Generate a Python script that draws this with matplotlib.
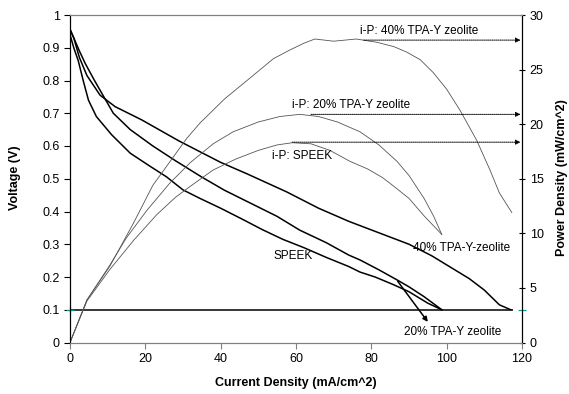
import matplotlib.pyplot as plt

plt.rcParams['font.family'] = ['Liberation Sans', 'DejaVu Sans']

# polarization curves (voltage vs current density)
i_40 = [0, 1, 2.5, 4.5, 8, 12, 19, 29, 40, 47, 57.5, 66, 74, 82, 90, 96, 101, 106, 110, 114, 117]
v_40 = [0.957, 0.93, 0.87, 0.815, 0.755, 0.72, 0.68, 0.615, 0.55, 0.515, 0.46, 0.41, 0.37, 0.335,
        0.3, 0.265, 0.23, 0.195, 0.16, 0.115, 0.1]

i_20 = [0, 1, 2.5, 4, 6.5, 9, 11.5, 16, 22, 28, 35, 41, 48, 55, 61, 68, 74, 77, 82, 87, 90, 94, 98.7]
v_20 = [0.955, 0.93, 0.89, 0.853, 0.8, 0.75, 0.7, 0.65, 0.6, 0.555, 0.505, 0.465, 0.425, 0.385,
        0.343, 0.305, 0.267, 0.252, 0.222, 0.19, 0.17, 0.14, 0.1]

i_sp = [0, 1, 2.2, 3.5, 4.9, 7, 11, 16, 21, 25.6, 30, 34.5, 40, 46, 51, 56.5, 62, 68, 74, 77, 81,
        86, 90, 95, 98.7]
v_sp = [0.94, 0.9, 0.86, 0.8, 0.74, 0.69, 0.635, 0.578, 0.54, 0.506, 0.466, 0.44, 0.41, 0.375,
        0.345, 0.315, 0.29, 0.26, 0.232, 0.215, 0.2, 0.176, 0.155, 0.12, 0.1]

# power density curves
pi_40 = [0, 4.5, 10.6, 16.8, 22, 31, 34.5, 41, 47, 54, 58.4, 62, 65, 70, 76, 81.5, 86, 89.4, 93,
         96.5, 100, 103.5, 108, 111.5, 114, 117.3]
p_40 = [0, 3.9, 7.0, 10.9, 14.4, 18.7, 20.1, 22.3, 24.0, 26.0, 26.8, 27.4, 27.8, 27.6, 27.8, 27.5,
        27.1, 26.6, 25.9, 24.7, 23.2, 21.3, 18.5, 15.8, 13.7, 11.9]

pi_20 = [0, 4.5, 10.6, 15, 20.4, 26.5, 32, 38, 43.3, 50, 55.7, 61, 66, 71, 77, 82, 86.8, 90, 94,
         96.5, 98.7]
p_20 = [0, 3.9, 7.1, 9.6, 12.1, 14.6, 16.5, 18.2, 19.3, 20.2, 20.7, 20.9, 20.7, 20.2, 19.3, 18.1,
        16.6, 15.3, 13.2, 11.6, 9.9]

pi_sp = [0, 4.5, 10.6, 17, 23, 28, 32.7, 38, 44, 50, 55, 59, 64, 69, 74.3, 79, 83, 86, 90, 94, 98.7]
p_sp = [0, 3.8, 6.7, 9.4, 11.7, 13.3, 14.5, 15.8, 16.8, 17.6, 18.1, 18.3, 18.2, 17.6, 16.6, 15.9,
        15.1, 14.3, 13.2, 11.6, 9.9]

# peak power markers (start current, peak power)
peak_labels = ['i-P: 40% TPA-Y zeolite', 'i-P: 20% TPA-Y zeolite', 'i-P: SPEEK']
peak_start = [78, 64, 59]
peak_power = [27.7, 20.9, 18.35]

fig = plt.figure(figsize=(5.69, 3.94), dpi=100)
fig.subplots_adjust(left=70/569, right=522/569, bottom=1-342.5/394, top=1-15/394)
ax = fig.add_subplot(111)
ax2 = ax.twinx()

ax.plot(i_40, v_40, color='black', lw=1.1)
ax.plot(i_20, v_20, color='black', lw=1.1)
ax.plot(i_sp, v_sp, color='black', lw=1.1)
ax.hlines(0.1, 0, 117.5, color='black', lw=1.1)
ax.plot([0], [0.1], marker='+', color='#00a0a0', ms=6, mew=0.9, clip_on=False)
ax.plot([120], [0.1], marker='_', color='#00a0a0', ms=6, mew=0.9, clip_on=False)

ax2.plot(pi_40, p_40, color='#555555', lw=0.6)
ax2.plot(pi_20, p_20, color='#555555', lw=0.6)
ax2.plot(pi_sp, p_sp, color='#555555', lw=0.6)

for s, p in zip(peak_start, peak_power):
    ax2.annotate('', xy=(119.6, p), xytext=(s, p),
                 arrowprops=dict(arrowstyle='-|>', color='black', lw=0.7, ls=(0, (1, 1)),
                                 mutation_scale=7, shrinkA=0, shrinkB=0))

fs = 8.5
ax2.text(77, 28.0, peak_labels[0], fontsize=fs, va='bottom', ha='left')
ax2.text(59, 21.2, peak_labels[1], fontsize=fs, va='bottom', ha='left')
ax2.text(53.5, 17.1, peak_labels[2], fontsize=fs, va='center', ha='left')

ax.text(54, 0.264, 'SPEEK', fontsize=fs, va='center', ha='left')
ax.text(91, 0.29, '40% TPA-Y-zeolite', fontsize=fs, va='center', ha='left')
ax.annotate('20% TPA-Y zeolite', xy=(95, 0.063), xytext=(88.7, 0.032), fontsize=fs,
            va='center', ha='left')
ax.annotate('', xy=(95, 0.063), xytext=(87, 0.187),
            arrowprops=dict(arrowstyle='-|>', color='black', lw=1.1, mutation_scale=7,
                            shrinkA=0, shrinkB=0))

ax.set_xlim(0, 120)
ax.set_ylim(0, 1)
ax2.set_ylim(0, 30)
ax.set_xticks(range(0, 121, 20))
ax.set_yticks([0, 0.1, 0.2, 0.3, 0.4, 0.5, 0.6, 0.7, 0.8, 0.9, 1])
ax.set_yticklabels(['0', '0.1', '0.2', '0.3', '0.4', '0.5', '0.6', '0.7', '0.8', '0.9', '1'])
ax2.set_yticks(range(0, 31, 5))

ax.tick_params(axis='both', labelsize=9, length=4, width=0.8, direction='out')
ax2.tick_params(axis='y', labelsize=9, length=4, width=0.8, direction='inout')

for side in ['top']:
    ax.spines[side].set_color('#808080')
    ax2.spines[side].set_color('#808080')
ax.spines['bottom'].set_color('#808080')
ax2.spines['bottom'].set_color('#808080')
ax.tick_params(axis='x', color='#808080')
for a in (ax, ax2):
    a.spines['left'].set_color('black')
    a.spines['right'].set_color('black')
    for sp in a.spines.values():
        sp.set_linewidth(0.8)

fig.text(15/569, 1-178/394, 'Voltage (V)', rotation=90, fontsize=9, fontweight='bold',
         ha='center', va='center')
fig.text(562/569, 1-178/394, 'Power Density (mW/cm^2)', rotation=90, fontsize=9,
         fontweight='bold', ha='center', va='center')
fig.text(296/569, 1-383/394, 'Current Density (mA/cm^2)', fontsize=9, fontweight='bold',
         ha='center', va='center')

fig.savefig('out.png', dpi=100)
